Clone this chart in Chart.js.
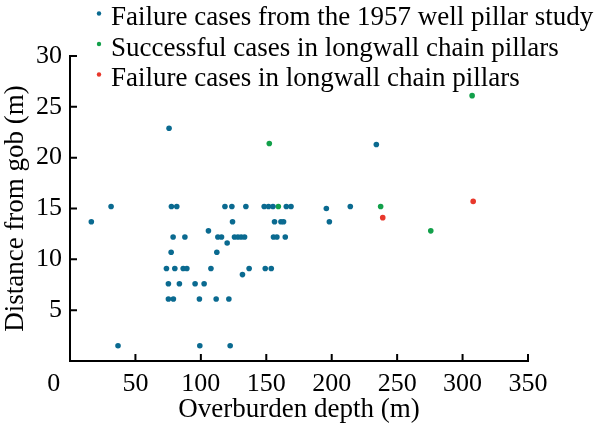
<!DOCTYPE html>
<html>
<head>
<meta charset="utf-8">
<script src="https://cdn.jsdelivr.net/npm/chart.js@4.4.0/dist/chart.umd.min.js"></script>
<style>
    html, body { margin: 0; padding: 0; background: #fff; }
</style>
</head>
<body>
<canvas id="pillarChart" width="600" height="427"></canvas>
<script>
// 1957 well pillar study (failures)
const wellDepth = [16.3, 31.4, 36.7, 75.7, 77.5, 81.6, 78.8, 87.8, 77.3,
    73.7, 80.1, 86.5, 89.3, 107.7, 136.9, 149.2, 153.8,
    75.2, 83.6, 95.6, 102.5,
    75.2, 79.0, 98.9, 111.7, 121.4,
    99.2, 122.4, 105.8, 112.2, 120.1, 131.8,
    118.4, 123.7, 134.4, 148.4, 151.7, 155.1, 165.3, 168.9, 214.2, 195.9,
    124.2, 156.3, 161.2, 163.2, 198.2,
    113.0, 115.8, 125.7, 128.3, 130.8, 133.4, 155.5, 158.1, 164.5,
    234.1];
const wellDist = [13.7, 15.2, 1.5, 22.9, 15.2, 15.2, 12.2, 12.2, 10.7,
    9.1, 9.1, 9.1, 9.1, 9.1, 9.1, 9.1, 9.1,
    7.6, 7.6, 7.6, 7.6,
    6.1, 6.1, 6.1, 6.1, 6.1,
    1.5, 1.5, 12.8, 10.7, 11.6, 8.5,
    15.2, 15.2, 15.2, 15.2, 15.2, 15.2, 15.2, 15.2, 15.2, 15.0,
    13.7, 13.7, 13.7, 13.7, 13.7,
    12.2, 12.2, 12.2, 12.2, 12.2, 12.2, 12.2, 12.2, 12.2,
    21.3];

// longwall chain pillars
const successDepth = [152.3, 159.2, 237.4, 275.7, 307.3];
const successDist = [21.4, 15.2, 15.2, 12.8, 26.1];
const failDepth = [239.0, 308.1];
const failDist = [14.1, 15.7];

const seriesLabels = [
    'Failure cases from the 1957 well pillar study',
    'Successful cases in longwall chain pillars',
    'Failure cases in longwall chain pillars'
];
const seriesColors = ['#0a6a90', '#12a04a', '#e8372b'];

const serif = '"Liberation Serif", "Times New Roman", serif';

function toPoints(xs, ys) {
    return xs.map((x, i) => ({ x: x, y: ys[i] }));
}

// legend sits over the top of the plot, drawn by hand
const cornerLegend = {
    id: 'cornerLegend',
    afterDraw(chart) {
        const c = chart.ctx;
        c.save();
        c.font = '27px ' + serif;
        c.textBaseline = 'alphabetic';
        c.textAlign = 'left';
        chart.data.datasets.forEach((ds, i) => {
            const base = 25 + i * 30.5;
            c.fillStyle = ds.backgroundColor;
            c.beginPath();
            c.arc(99, base - 11.5, 2.2, 0, Math.PI * 2);
            c.fill();
            c.fillStyle = '#000';
            c.fillText(ds.label, 111, base);
        });
        c.restore();
    }
};

// tick marks pointing into the plot
const innerTicks = {
    id: 'innerTicks',
    afterDraw(chart) {
        const c = chart.ctx;
        const xs = chart.scales.x;
        const ys = chart.scales.y;
        c.save();
        c.strokeStyle = '#000';
        c.lineWidth = 2;
        c.beginPath();
        xs.ticks.forEach(t => {
            const px = xs.getPixelForValue(t.value);
            c.moveTo(px, ys.bottom);
            c.lineTo(px, ys.bottom - 7);
        });
        ys.ticks.forEach(t => {
            const py = ys.getPixelForValue(t.value);
            c.moveTo(xs.left, py);
            c.lineTo(xs.left + 7, py);
        });
        c.stroke();
        c.restore();
    }
};

const ctx = document.getElementById('pillarChart').getContext('2d');

new Chart(ctx, {
    type: 'scatter',
    data: {
        datasets: [
            {
                label: seriesLabels[0],
                data: toPoints(wellDepth, wellDist),
                backgroundColor: seriesColors[0],
                borderWidth: 0,
                pointRadius: 2.8
            },
            {
                label: seriesLabels[1],
                data: toPoints(successDepth, successDist),
                backgroundColor: seriesColors[1],
                borderWidth: 0,
                pointRadius: 2.8
            },
            {
                label: seriesLabels[2],
                data: toPoints(failDepth, failDist),
                backgroundColor: seriesColors[2],
                borderWidth: 0,
                pointRadius: 2.8
            }
        ]
    },
    options: {
        responsive: false,
        animation: false,
        layout: {
            padding: { top: 56, right: 72, left: 0, bottom: 0 }
        },
        plugins: {
            legend: { display: false },
            tooltip: { enabled: false }
        },
        scales: {
            x: {
                type: 'linear',
                min: 0,
                max: 350,
                afterFit: (s) => { s.height = 66; },
                ticks: {
                    stepSize: 50,
                    color: '#000',
                    font: { family: serif, size: 26 },
                    padding: 8,
                    maxRotation: 0,
                    callback: (v) => v === 0 ? '0     ' : v
                },
                grid: {
                    drawOnChartArea: false,
                    drawTicks: false
                },
                border: { color: '#000', width: 2 },
                title: {
                    display: true,
                    text: 'Overburden depth (m)',
                    color: '#000',
                    font: { family: serif, size: 27 },
                    padding: { top: 0, bottom: 1 }
                }
            },
            y: {
                min: 0,
                max: 30,
                afterFit: (s) => { s.width = 70; },
                ticks: {
                    stepSize: 5,
                    color: '#000',
                    font: { family: serif, size: 26 },
                    padding: 8,
                    callback: (v) => v === 0 ? '' : v
                },
                grid: {
                    drawOnChartArea: false,
                    drawTicks: false
                },
                border: { color: '#000', width: 2 },
                title: {
                    display: true,
                    text: 'Distance from gob (m)',
                    color: '#000',
                    font: { family: serif, size: 27 },
                    padding: { top: 0, bottom: 0 }
                }
            }
        }
    },
    plugins: [cornerLegend, innerTicks]
});
</script>
</body>
</html>
